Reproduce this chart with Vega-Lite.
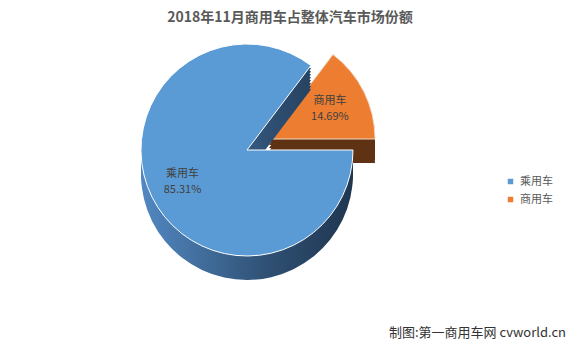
{
  "$schema": "https://vega.github.io/schema/vega-lite/v6.json",
  "width": 494,
  "height": 240,
  "autosize": {"type": "none"},
  "padding": {"left": 0, "top": 30, "right": 85, "bottom": 77},
  "background": "white",
  "config": {
    "view": {"stroke": null},
    "font": "Noto Sans CJK SC",
    "legend": {"symbolType": "square", "symbolSize": 30, "labelFontSize": 11, "labelColor": "#595959", "labelFont": "Noto Sans CJK SC", "rowPadding": 6, "symbolStrokeWidth": 0}
  },
  "title": {"text": "2018年11月商用车占整体汽车市场份额", "fontSize": 14, "fontWeight": "bold", "color": "#595959", "font": "Noto Sans CJK SC", "frame": "group", "anchor": "middle", "dx": 43, "offset": 5},
  "datasets": {
    "share": [
      {"类别": "乘用车", "份额": 0.8531},
      {"类别": "商用车", "份额": 0.1469}
    ]
  },
  "data": {"name": "share"},
  "layer": [
    {"mark": {"type": "arc", "outerRadius": 106, "xOffset": 22, "yOffset": -8, "fill": "#5e3213"}, "encoding": {"theta": {"field": "份额", "type": "quantitative", "stack": true, "scale": {"range": [1.5708, 7.854]}}, "order": {"field": "类别", "sort": "ascending"}, "opacity": {"condition": {"test": "datum['类别'] === '乘用车'", "value": 0}, "value": 1}}},
    {"mark": {"type": "arc", "outerRadius": 106, "xOffset": 22, "yOffset": -5, "fill": "#5e3213"}, "encoding": {"theta": {"field": "份额", "type": "quantitative", "stack": true, "scale": {"range": [1.5708, 7.854]}}, "order": {"field": "类别", "sort": "ascending"}, "opacity": {"condition": {"test": "datum['类别'] === '乘用车'", "value": 0}, "value": 1}}},
    {"mark": {"type": "arc", "outerRadius": 106, "xOffset": 22, "yOffset": -2, "fill": "#5e3213"}, "encoding": {"theta": {"field": "份额", "type": "quantitative", "stack": true, "scale": {"range": [1.5708, 7.854]}}, "order": {"field": "类别", "sort": "ascending"}, "opacity": {"condition": {"test": "datum['类别'] === '乘用车'", "value": 0}, "value": 1}}},
    {"mark": {"type": "arc", "outerRadius": 106, "xOffset": 22, "yOffset": 1, "fill": "#5e3213"}, "encoding": {"theta": {"field": "份额", "type": "quantitative", "stack": true, "scale": {"range": [1.5708, 7.854]}}, "order": {"field": "类别", "sort": "ascending"}, "opacity": {"condition": {"test": "datum['类别'] === '乘用车'", "value": 0}, "value": 1}}},
    {"mark": {"type": "arc", "outerRadius": 106, "xOffset": 22, "yOffset": 4, "fill": "#5e3213"}, "encoding": {"theta": {"field": "份额", "type": "quantitative", "stack": true, "scale": {"range": [1.5708, 7.854]}}, "order": {"field": "类别", "sort": "ascending"}, "opacity": {"condition": {"test": "datum['类别'] === '乘用车'", "value": 0}, "value": 1}}},
    {"mark": {"type": "arc", "outerRadius": 106, "xOffset": 22, "yOffset": 7, "fill": "#5e3213"}, "encoding": {"theta": {"field": "份额", "type": "quantitative", "stack": true, "scale": {"range": [1.5708, 7.854]}}, "order": {"field": "类别", "sort": "ascending"}, "opacity": {"condition": {"test": "datum['类别'] === '乘用车'", "value": 0}, "value": 1}}},
    {"mark": {"type": "arc", "outerRadius": 106, "xOffset": 22, "yOffset": 10, "fill": "#5e3213"}, "encoding": {"theta": {"field": "份额", "type": "quantitative", "stack": true, "scale": {"range": [1.5708, 7.854]}}, "order": {"field": "类别", "sort": "ascending"}, "opacity": {"condition": {"test": "datum['类别'] === '乘用车'", "value": 0}, "value": 1}}},
    {"mark": {"type": "arc", "outerRadius": 106, "xOffset": 22, "yOffset": 13, "fill": "#5e3213"}, "encoding": {"theta": {"field": "份额", "type": "quantitative", "stack": true, "scale": {"range": [1.5708, 7.854]}}, "order": {"field": "类别", "sort": "ascending"}, "opacity": {"condition": {"test": "datum['类别'] === '乘用车'", "value": 0}, "value": 1}}},
    {"mark": {"type": "arc", "outerRadius": 106, "xOffset": 22, "yOffset": -11, "stroke": "#f2d9c5", "strokeWidth": 1}, "encoding": {"theta": {"field": "份额", "type": "quantitative", "stack": true, "scale": {"range": [1.5708, 7.854]}}, "order": {"field": "类别", "sort": "ascending"}, "color": {"field": "类别", "type": "nominal", "title": null, "scale": {"domain": ["乘用车", "商用车"], "range": ["#5b9bd5", "#ed7d31"]}, "legend": {"orient": "none", "legendX": 505, "legendY": 146}}, "opacity": {"condition": {"test": "datum['类别'] === '乘用车'", "value": 0}, "value": 1}}},
    {"mark": {"type": "arc", "outerRadius": 106, "yOffset": 3, "fill": {"gradient": "linear", "x1": 0, "y1": 0, "x2": 1, "y2": 0, "stops": [{"offset": 0, "color": "#5288c2"}, {"offset": 0.6, "color": "#2f5073"}, {"offset": 1, "color": "#1f3650"}]}}, "encoding": {"theta": {"field": "份额", "type": "quantitative", "stack": true, "scale": {"range": [1.5708, 7.854]}}, "order": {"field": "类别", "sort": "ascending"}, "opacity": {"condition": {"test": "datum['类别'] === '商用车'", "value": 0}, "value": 1}}},
    {"mark": {"type": "arc", "outerRadius": 106, "yOffset": 6, "fill": {"gradient": "linear", "x1": 0, "y1": 0, "x2": 1, "y2": 0, "stops": [{"offset": 0, "color": "#5288c2"}, {"offset": 0.6, "color": "#2f5073"}, {"offset": 1, "color": "#1f3650"}]}}, "encoding": {"theta": {"field": "份额", "type": "quantitative", "stack": true, "scale": {"range": [1.5708, 7.854]}}, "order": {"field": "类别", "sort": "ascending"}, "opacity": {"condition": {"test": "datum['类别'] === '商用车'", "value": 0}, "value": 1}}},
    {"mark": {"type": "arc", "outerRadius": 106, "yOffset": 9, "fill": {"gradient": "linear", "x1": 0, "y1": 0, "x2": 1, "y2": 0, "stops": [{"offset": 0, "color": "#5288c2"}, {"offset": 0.6, "color": "#2f5073"}, {"offset": 1, "color": "#1f3650"}]}}, "encoding": {"theta": {"field": "份额", "type": "quantitative", "stack": true, "scale": {"range": [1.5708, 7.854]}}, "order": {"field": "类别", "sort": "ascending"}, "opacity": {"condition": {"test": "datum['类别'] === '商用车'", "value": 0}, "value": 1}}},
    {"mark": {"type": "arc", "outerRadius": 106, "yOffset": 12, "fill": {"gradient": "linear", "x1": 0, "y1": 0, "x2": 1, "y2": 0, "stops": [{"offset": 0, "color": "#5288c2"}, {"offset": 0.6, "color": "#2f5073"}, {"offset": 1, "color": "#1f3650"}]}}, "encoding": {"theta": {"field": "份额", "type": "quantitative", "stack": true, "scale": {"range": [1.5708, 7.854]}}, "order": {"field": "类别", "sort": "ascending"}, "opacity": {"condition": {"test": "datum['类别'] === '商用车'", "value": 0}, "value": 1}}},
    {"mark": {"type": "arc", "outerRadius": 106, "yOffset": 15, "fill": {"gradient": "linear", "x1": 0, "y1": 0, "x2": 1, "y2": 0, "stops": [{"offset": 0, "color": "#5288c2"}, {"offset": 0.6, "color": "#2f5073"}, {"offset": 1, "color": "#1f3650"}]}}, "encoding": {"theta": {"field": "份额", "type": "quantitative", "stack": true, "scale": {"range": [1.5708, 7.854]}}, "order": {"field": "类别", "sort": "ascending"}, "opacity": {"condition": {"test": "datum['类别'] === '商用车'", "value": 0}, "value": 1}}},
    {"mark": {"type": "arc", "outerRadius": 106, "yOffset": 18, "fill": {"gradient": "linear", "x1": 0, "y1": 0, "x2": 1, "y2": 0, "stops": [{"offset": 0, "color": "#5288c2"}, {"offset": 0.6, "color": "#2f5073"}, {"offset": 1, "color": "#1f3650"}]}}, "encoding": {"theta": {"field": "份额", "type": "quantitative", "stack": true, "scale": {"range": [1.5708, 7.854]}}, "order": {"field": "类别", "sort": "ascending"}, "opacity": {"condition": {"test": "datum['类别'] === '商用车'", "value": 0}, "value": 1}}},
    {"mark": {"type": "arc", "outerRadius": 106, "yOffset": 21, "fill": {"gradient": "linear", "x1": 0, "y1": 0, "x2": 1, "y2": 0, "stops": [{"offset": 0, "color": "#5288c2"}, {"offset": 0.6, "color": "#2f5073"}, {"offset": 1, "color": "#1f3650"}]}}, "encoding": {"theta": {"field": "份额", "type": "quantitative", "stack": true, "scale": {"range": [1.5708, 7.854]}}, "order": {"field": "类别", "sort": "ascending"}, "opacity": {"condition": {"test": "datum['类别'] === '商用车'", "value": 0}, "value": 1}}},
    {"mark": {"type": "arc", "outerRadius": 106, "yOffset": 24, "fill": {"gradient": "linear", "x1": 0, "y1": 0, "x2": 1, "y2": 0, "stops": [{"offset": 0, "color": "#5288c2"}, {"offset": 0.6, "color": "#2f5073"}, {"offset": 1, "color": "#1f3650"}]}}, "encoding": {"theta": {"field": "份额", "type": "quantitative", "stack": true, "scale": {"range": [1.5708, 7.854]}}, "order": {"field": "类别", "sort": "ascending"}, "opacity": {"condition": {"test": "datum['类别'] === '商用车'", "value": 0}, "value": 1}}},
    {"mark": {"type": "arc", "outerRadius": 106, "stroke": "#ffffff", "strokeWidth": 1}, "encoding": {"theta": {"field": "份额", "type": "quantitative", "stack": true, "scale": {"range": [1.5708, 7.854]}}, "order": {"field": "类别", "sort": "ascending"}, "color": {"field": "类别", "type": "nominal", "title": null, "scale": {"domain": ["乘用车", "商用车"], "range": ["#5b9bd5", "#ed7d31"]}, "legend": {"orient": "none", "legendX": 505, "legendY": 146}}, "opacity": {"condition": {"test": "datum['类别'] === '商用车'", "value": 0}, "value": 1}}},
    {"mark": {"type": "text", "radius": 72, "dy": -8, "fontSize": 11, "color": "#404040", "font": "Noto Sans CJK SC"}, "encoding": {"theta": {"field": "份额", "type": "quantitative", "stack": true, "scale": {"range": [1.5708, 7.854]}}, "order": {"field": "类别", "sort": "ascending"}, "text": {"field": "类别", "type": "nominal"}, "opacity": {"condition": {"test": "datum['类别'] === '商用车'", "value": 0}, "value": 1}}},
    {"mark": {"type": "text", "radius": 72, "dy": 8, "fontSize": 11, "color": "#404040", "font": "Noto Sans CJK SC"}, "encoding": {"theta": {"field": "份额", "type": "quantitative", "stack": true, "scale": {"range": [1.5708, 7.854]}}, "order": {"field": "类别", "sort": "ascending"}, "text": {"field": "份额", "type": "quantitative", "format": ".2%"}, "opacity": {"condition": {"test": "datum['类别'] === '商用车'", "value": 0}, "value": 1}}},
    {"mark": {"type": "text", "radius": 68, "xOffset": 22, "yOffset": -11, "dy": -8, "fontSize": 11, "color": "#404040", "font": "Noto Sans CJK SC"}, "encoding": {"theta": {"field": "份额", "type": "quantitative", "stack": true, "scale": {"range": [1.5708, 7.854]}}, "order": {"field": "类别", "sort": "ascending"}, "text": {"field": "类别", "type": "nominal"}, "opacity": {"condition": {"test": "datum['类别'] === '乘用车'", "value": 0}, "value": 1}}},
    {"mark": {"type": "text", "radius": 68, "xOffset": 22, "yOffset": -11, "dy": 8, "fontSize": 11, "color": "#404040", "font": "Noto Sans CJK SC"}, "encoding": {"theta": {"field": "份额", "type": "quantitative", "stack": true, "scale": {"range": [1.5708, 7.854]}}, "order": {"field": "类别", "sort": "ascending"}, "text": {"field": "份额", "type": "quantitative", "format": ".2%"}, "opacity": {"condition": {"test": "datum['类别'] === '乘用车'", "value": 0}, "value": 1}}},
    {"data": {"values": [{"注": "制图:第一商用车网 cvworld.cn"}]}, "mark": {"type": "text", "align": "right", "baseline": "middle", "fontSize": 13, "color": "#333333", "font": "Noto Sans CJK SC", "x": {"expr": "width + 72"}, "y": {"expr": "height + 63"}}, "encoding": {"text": {"field": "注", "type": "nominal"}}}
  ]
}
